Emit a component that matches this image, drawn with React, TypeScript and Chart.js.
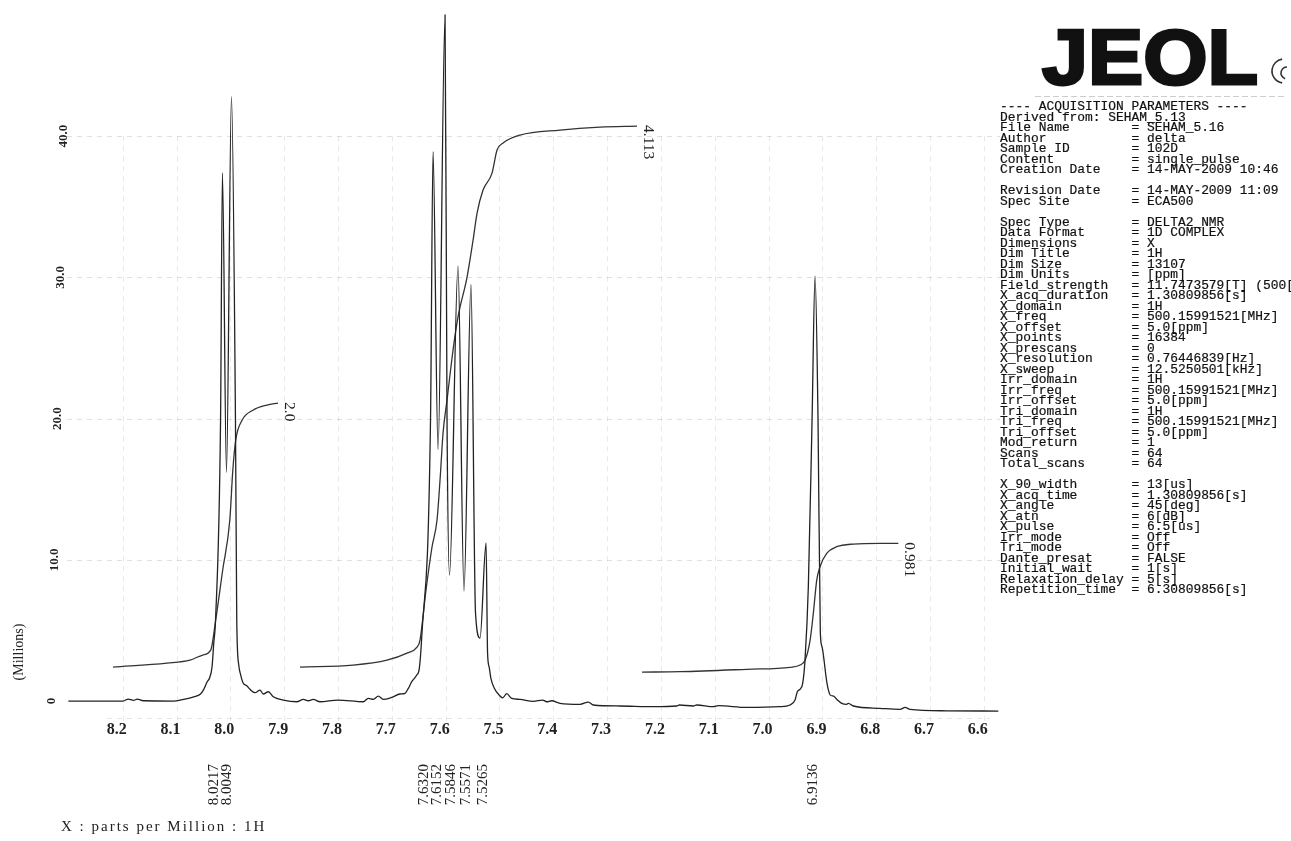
import React, { useEffect, useRef } from "react";
import { Chart, registerables } from "chart.js";

Chart.register(...registerables);

// ---------- axis definitions ----------
const X_TICKS = [8.2, 8.1, 8.0, 7.9, 7.8, 7.7, 7.6, 7.5, 7.4, 7.3, 7.2, 7.1, 7.0, 6.9, 6.8, 6.7, 6.6];
const Y_TICKS = [0, 10, 20, 30, 40];
const Y_TICK_LABELS = ["0", "10.0", "20.0", "30.0", "40.0"];
const Y_GRID = [10, 20, 30, 40];
const X_MIN = 6.57;
const X_MAX = 8.3035;
const Y_MIN = -1.2;
const Y_MAX = 48.94;

// ---------- spectrum (ppm, intensity in millions) ----------
const SPECTRUM_PPM = [
  8.301, 8.199, 8.19, 8.18, 8.173, 8.162, 8.106, 8.087, 8.068, 8.0555, 8.0494, 8.043, 8.0388, 8.034,
  8.0308, 8.0275, 8.0182, 8.0147, 8.0072, 7.9979, 7.9905, 7.9881, 7.9844, 7.9807, 7.9765, 7.969,
  7.9635, 7.9542, 7.945, 7.9388, 7.9295, 7.9202, 7.9016, 7.8767, 7.8644, 7.8551, 7.8459, 7.8334,
  7.8, 7.753, 7.7437, 7.7344, 7.725, 7.7158, 7.7002, 7.6848, 7.6755, 7.6693, 7.663, 7.6537, 7.6489,
  7.6444, 7.6281, 7.6234, 7.6141, 7.6011, 7.5974, 7.5928, 7.577, 7.5659, 7.5529, 7.5445, 7.5361,
  7.5249, 7.5221, 7.5191, 7.516, 7.5098, 7.5005, 7.494, 7.4865, 7.4772, 7.4618, 7.4371, 7.4196,
  7.4122, 7.4029, 7.3875, 7.3503, 7.3349, 7.3256, 7.276, 7.2141, 7.1706, 7.1658, 7.1398, 7.1335,
  7.1026, 7.0933, 7.0406, 6.9787, 6.9601, 6.9508, 6.9466, 6.9416, 6.9366, 6.9323, 6.9261, 6.9192,
  6.9136, 6.9081, 6.9038, 6.9007, 6.8914, 6.8853, 6.8791, 6.8734, 6.864, 6.8548, 6.8518, 6.8425,
  6.7929, 6.7557, 6.7464, 6.7371, 6.6689, 6.5731,
];
const SPECTRUM_INT = [
  0, 0, 0.14, 0.05, 0.14, 0.02, 0, 0.12, 0.3, 0.5, 0.83, 1.37, 1.61, 2.43,
  4.11, 5.74, 19.9, 37.4, 16.2, 42.8, 19.9, 5.74, 2.55, 1.84, 1.3, 1.06,
  0.83, 0.59, 0.78, 0.5, 0.66, 0.3, 0.07, -0.05, 0.12, 0.02, 0.12, -0.05,
  0.07, -0.05, 0.19, 0.12, 0.35, 0.12, 0.26, 0.5, 0.55, 0.9, 1.37, 1.84, 2.32,
  4.55, 19.9, 38.9, 17.8, 48.6, 19.9, 8.92, 30.8, 7.79, 29.5, 6.23, 4.46,
  11.2, 3.4, 2.41, 1.63, 0.92, 0.42, 0.23, 0.52, 0.19, 0.12, -0.02, 0.07,
  -0.05, 0.02, -0.16, -0.23, -0.07, -0.28, -0.35, -0.4, -0.35, -0.28, -0.35, -0.28,
  -0.4, -0.33, -0.45, -0.4, -0.28, 0.07, 0.66, 0.83, 1.25, 2.9, 8.1, 19.9,
  30.1, 19.9, 4.82, 3.85, 1.25, 0.42, 0.35, 0.12, -0.16, -0.23, -0.16, -0.35,
  -0.52, -0.59, -0.45, -0.59, -0.69, -0.71,
];

// ---------- integral curves ----------
const INTEGRAL_A_PPM = [8.218, 8.1177, 8.075, 8.0514, 8.0365, 8.0272, 8.0142, 8.001, 7.9954, 7.99, 7.978, 7.958, 7.932, 7.9115];
const INTEGRAL_A_VAL = [2.41, 2.69, 2.9, 3.26, 3.61, 5.74, 9.28, 12.82, 16.36, 18.48, 19.9, 20.6, 20.96, 21.1];
const INTEGRAL_B_PPM = [
  7.8706, 7.772, 7.709, 7.6717, 7.6532, 7.6476, 7.6365, 7.6253, 7.616, 7.6104, 7.6048, 7.5974, 7.5862,
  7.577, 7.5602, 7.549, 7.5416, 7.5305, 7.5138, 7.5045, 7.4933, 7.4618, 7.3874, 7.3131, 7.2444,
];
const INTEGRAL_B_VAL = [
  2.41, 2.55, 2.9, 3.4, 3.82, 4.32, 7.86, 10.91, 12.82, 15.65, 18.98, 21.32, 24.86,
  27.2, 30.03, 32.65, 34.56, 36.19, 37.39, 39.02, 39.52, 40.08, 40.44, 40.65, 40.72,
];
const INTEGRAL_C_PPM = [7.2351, 7.1645, 7.04, 6.96, 6.9414, 6.932, 6.9228, 6.9168, 6.9105, 6.9044, 6.892, 6.8733, 6.8425, 6.793, 6.7589];
const INTEGRAL_C_VAL = [2.05, 2.08, 2.25, 2.39, 2.55, 2.9, 4.32, 6.23, 8.57, 9.51, 10.46, 10.93, 11.12, 11.17, 11.17];
const INTEGRAL_LABELS = ["2.0", "4.113", "0.981"];

// ---------- peak picks ----------
const PEAK_PPM = [8.0217, 8.0049, 7.632, 7.6152, 7.5846, 7.5571, 7.5265, 6.9136];

// ---------- acquisition parameters ----------
const PARAM_HEADER = "---- ACQUISITION PARAMETERS ----";
const PARAM_DERIVED = "Derived from: SEHAM_5.13";
const PARAM_GROUPS = [
  [
    ["File Name", "SEHAM_5.16"],
    ["Author", "delta"],
    ["Sample ID", "102D"],
    ["Content", "single_pulse"],
    ["Creation Date", "14-MAY-2009 10:46"],
  ],
  [
    ["Revision Date", "14-MAY-2009 11:09"],
    ["Spec Site", "ECA500"],
  ],
  [
    ["Spec Type", "DELTA2_NMR"],
    ["Data Format", "1D COMPLEX"],
    ["Dimensions", "X"],
    ["Dim Title", "1H"],
    ["Dim Size", "13107"],
    ["Dim Units", "[ppm]"],
    ["Field_strength", "11.7473579[T] (500[MHz])"],
    ["X_acq_duration", "1.30809856[s]"],
    ["X_domain", "1H"],
    ["X_freq", "500.15991521[MHz]"],
    ["X_offset", "5.0[ppm]"],
    ["X_points", "16384"],
    ["X_prescans", "0"],
    ["X_resolution", "0.76446839[Hz]"],
    ["X_sweep", "12.5250501[kHz]"],
    ["Irr_domain", "1H"],
    ["Irr_freq", "500.15991521[MHz]"],
    ["Irr_offset", "5.0[ppm]"],
    ["Tri_domain", "1H"],
    ["Tri_freq", "500.15991521[MHz]"],
    ["Tri_offset", "5.0[ppm]"],
    ["Mod_return", "1"],
    ["Scans", "64"],
    ["Total_scans", "64"],
  ],
  [
    ["X_90_width", "13[us]"],
    ["X_acq_time", "1.30809856[s]"],
    ["X_angle", "45[deg]"],
    ["X_atn", "6[dB]"],
    ["X_pulse", "6.5[us]"],
    ["Irr_mode", "Off"],
    ["Tri_mode", "Off"],
    ["Dante_presat", "FALSE"],
    ["Initial_wait", "1[s]"],
    ["Relaxation_delay", "5[s]"],
    ["Repetition_time", "6.30809856[s]"],
  ],
];

function buildParamText() {
  const lines: string[] = [PARAM_HEADER, PARAM_DERIVED];
  PARAM_GROUPS.forEach((g, gi) => {
    if (gi > 0) lines.push("");
    g.forEach(([k, v]) => lines.push(k.padEnd(17, " ") + "= " + v));
  });
  return lines.join("\n");
}

const SERIF = '"Liberation Serif", "Times New Roman", serif';

function spreadLabels(xs: number[], gap: number) {
  let groups = xs.map((x) => ({ items: [x], start: x }));
  let merged = true;
  while (merged) {
    merged = false;
    for (let i = 0; i < groups.length - 1; i++) {
      const a = groups[i];
      const b = groups[i + 1];
      const aEnd = a.start + (a.items.length - 1) * gap;
      if (b.start - aEnd < gap) {
        const items = a.items.concat(b.items);
        const mean = items.reduce((s, v) => s + v, 0) / items.length;
        const start = mean - ((items.length - 1) * gap) / 2;
        groups.splice(i, 2, { items, start });
        merged = true;
        break;
      }
    }
  }
  const out: number[] = [];
  groups.forEach((g) => g.items.forEach((_, k) => out.push(g.start + k * gap)));
  return out;
}

const decorPlugin = {
  id: "nmrDecor",
  beforeDatasetsDraw(chart: any) {
    const { ctx, chartArea, scales } = chart;
    const xs = scales.x;
    const ys = scales.y;
    ctx.save();
    ctx.strokeStyle = "rgba(130,130,130,0.25)";
    ctx.lineWidth = 1;
    ctx.setLineDash([5, 5]);
    Y_GRID.forEach((v) => {
      const py = Math.round(ys.getPixelForValue(v)) + 0.5;
      ctx.beginPath();
      ctx.moveTo(chartArea.left, py);
      ctx.lineTo(chartArea.right, py);
      ctx.stroke();
    });
    const topY = ys.getPixelForValue(40);
    ctx.strokeStyle = "rgba(130,130,130,0.18)";
    X_TICKS.forEach((v) => {
      const px = Math.round(xs.getPixelForValue(v)) + 0.5;
      ctx.beginPath();
      ctx.moveTo(px, topY);
      ctx.lineTo(px, chartArea.bottom + 3);
      ctx.stroke();
    });
    ctx.strokeStyle = "rgba(130,130,130,0.2)";
    const by = Math.round(chartArea.bottom) + 0.5;
    ctx.beginPath();
    ctx.moveTo(chartArea.left + 40, by);
    ctx.lineTo(chartArea.right - 10, by);
    ctx.stroke();
    ctx.restore();
  },
  afterDraw(chart: any) {
    const { ctx, scales } = chart;
    const xs = scales.x;
    const ys = scales.y;
    ctx.save();
    ctx.fillStyle = "#222";

    // y tick labels (rotated)
    ctx.font = `bold 13px ${SERIF}`;
    ctx.textAlign = "center";
    ctx.textBaseline = "middle";
    Y_TICKS.forEach((v, i) => {
      const py = ys.getPixelForValue(v);
      const px = 52 + (ys.getPixelForValue(0) - py) * 0.02;
      ctx.save();
      ctx.translate(px, py);
      ctx.rotate(-Math.PI / 2);
      ctx.fillText(Y_TICK_LABELS[i], 0, 0);
      ctx.restore();
    });

    // y axis title
    ctx.font = `14px ${SERIF}`;
    ctx.save();
    ctx.translate(19, 652);
    ctx.rotate(-Math.PI / 2);
    ctx.fillText("(Millions)", 0, 0);
    ctx.restore();

    // x axis title
    ctx.font = `15px ${SERIF}`;
    (ctx as any).letterSpacing = "2px";
    ctx.textAlign = "left";
    ctx.fillText("X : parts per Million : 1H", 61, 827);
    (ctx as any).letterSpacing = "0px";

    // peak labels
    ctx.font = `15px ${SERIF}`;
    ctx.textAlign = "right";
    ctx.textBaseline = "middle";
    const desired = PEAK_PPM.map((p) => xs.getPixelForValue(p) - 2.5);
    const placed = spreadLabels(desired, 12.5);
    PEAK_PPM.forEach((p, i) => {
      const px = placed[i];
      ctx.save();
      ctx.translate(px, 764);
      ctx.rotate(-Math.PI / 2);
      ctx.fillText(p.toFixed(4), 0, 0);
      ctx.restore();
    });

    // integral labels
    const ends = [
      [INTEGRAL_A_PPM[INTEGRAL_A_PPM.length - 1], INTEGRAL_A_VAL[INTEGRAL_A_VAL.length - 1]],
      [INTEGRAL_B_PPM[INTEGRAL_B_PPM.length - 1], INTEGRAL_B_VAL[INTEGRAL_B_VAL.length - 1]],
      [INTEGRAL_C_PPM[INTEGRAL_C_PPM.length - 1], INTEGRAL_C_VAL[INTEGRAL_C_VAL.length - 1]],
    ];
    ctx.font = `15.5px ${SERIF}`;
    ctx.textAlign = "left";
    ends.forEach(([p, v], i) => {
      const px = xs.getPixelForValue(p) + 11;
      const py = ys.getPixelForValue(v) - 1;
      ctx.save();
      ctx.translate(px, py);
      ctx.rotate(Math.PI / 2);
      ctx.fillText(INTEGRAL_LABELS[i], 0, 0);
      ctx.restore();
    });

    // JEOL logo
    ctx.fillStyle = "#111";
    ctx.strokeStyle = "#111";
    ctx.font = 'bold 78px "Liberation Sans", Arial, sans-serif';
    ctx.textAlign = "left";
    ctx.textBaseline = "alphabetic";
    const w = ctx.measureText("JEOL").width;
    ctx.save();
    ctx.translate(1042, 84);
    ctx.scale(216 / w, 1);
    ctx.lineWidth = 3;
    ctx.lineJoin = "miter";
    ctx.fillText("JEOL", 0, 0);
    ctx.strokeText("JEOL", 0, 0);
    ctx.restore();
    ctx.strokeStyle = "#333";
    ctx.lineWidth = 1.6;
    ctx.beginPath();
    ctx.arc(1284, 71, 12, Math.PI * 0.55, Math.PI * 1.45);
    ctx.stroke();
    ctx.beginPath();
    ctx.arc(1287, 73, 6, Math.PI * 0.6, Math.PI * 1.5);
    ctx.stroke();
    ctx.strokeStyle = "rgba(90,90,90,0.3)";
    ctx.lineWidth = 1;
    ctx.setLineDash([6, 3]);
    ctx.beginPath();
    ctx.moveTo(1035, 96.5);
    ctx.lineTo(1285, 96.5);
    ctx.stroke();
    ctx.restore();
  },
};

export default function App() {
  const ref = useRef<HTMLCanvasElement | null>(null);

  useEffect(() => {
    if (!ref.current) return;
    const toPts = (xs: number[], ys: number[]) => xs.map((x, i) => ({ x, y: ys[i] }));
    const lineStyle = {
      borderColor: "#222",
      borderWidth: 1.3,
      pointRadius: 0,
      fill: false,
      cubicInterpolationMode: "monotone" as const,
    };
    const chart = new Chart(ref.current, {
      type: "line",
      data: {
        datasets: [
          { label: "Spectrum", data: toPts(SPECTRUM_PPM, SPECTRUM_INT), ...lineStyle },
          { label: "Integral 1", data: toPts(INTEGRAL_A_PPM, INTEGRAL_A_VAL), ...lineStyle, borderColor: "#333" },
          { label: "Integral 2", data: toPts(INTEGRAL_B_PPM, INTEGRAL_B_VAL), ...lineStyle, borderColor: "#333" },
          { label: "Integral 3", data: toPts(INTEGRAL_C_PPM, INTEGRAL_C_VAL), ...lineStyle, borderColor: "#333" },
        ],
      },
      options: {
        responsive: false,
        animation: false,
        devicePixelRatio: 1,
        layout: { padding: { left: 67, right: 291, top: 10, bottom: 0 } },
        plugins: { legend: { display: false }, tooltip: { enabled: false } },
        elements: { point: { radius: 0 } },
        scales: {
          x: {
            type: "linear",
            reverse: true,
            min: X_MIN,
            max: X_MAX,
            afterBuildTicks: (s: any) => {
              s.ticks = X_TICKS.map((v) => ({ value: v }));
            },
            afterFit: (s: any) => {
              s.height = 123;
            },
            grid: { display: false, drawTicks: false },
            border: { display: false },
            ticks: {
              autoSkip: false,
              maxRotation: 0,
              minRotation: 0,
              padding: 2,
              labelOffset: -6,
              color: "#222",
              font: { family: SERIF, size: 16, weight: "bold" },
              callback: (v: any) => Number(v).toFixed(1),
            },
          },
          y: { type: "linear", display: false, min: Y_MIN, max: Y_MAX },
        },
      },
      plugins: [decorPlugin],
    });
    return () => chart.destroy();
  }, []);

  return (
    <div style={{ position: "fixed", left: 0, top: 0, width: 1291, height: 841, background: "#fff", overflow: "hidden" }}>
      <canvas ref={ref} width={1291} height={841} style={{ position: "absolute", left: 0, top: 0, width: 1291, height: 841 }} />
      <pre
        style={{
          position: "absolute",
          left: 1000,
          top: 102,
          margin: 0,
          fontFamily: '"Liberation Mono", "Courier New", monospace',
          fontSize: "12.9px",
          lineHeight: "10.5px",
          color: "#111",
          whiteSpace: "pre",
          WebkitTextStroke: "0.2px #111",
        }}
      >
        {buildParamText()}
      </pre>
    </div>
  );
}
